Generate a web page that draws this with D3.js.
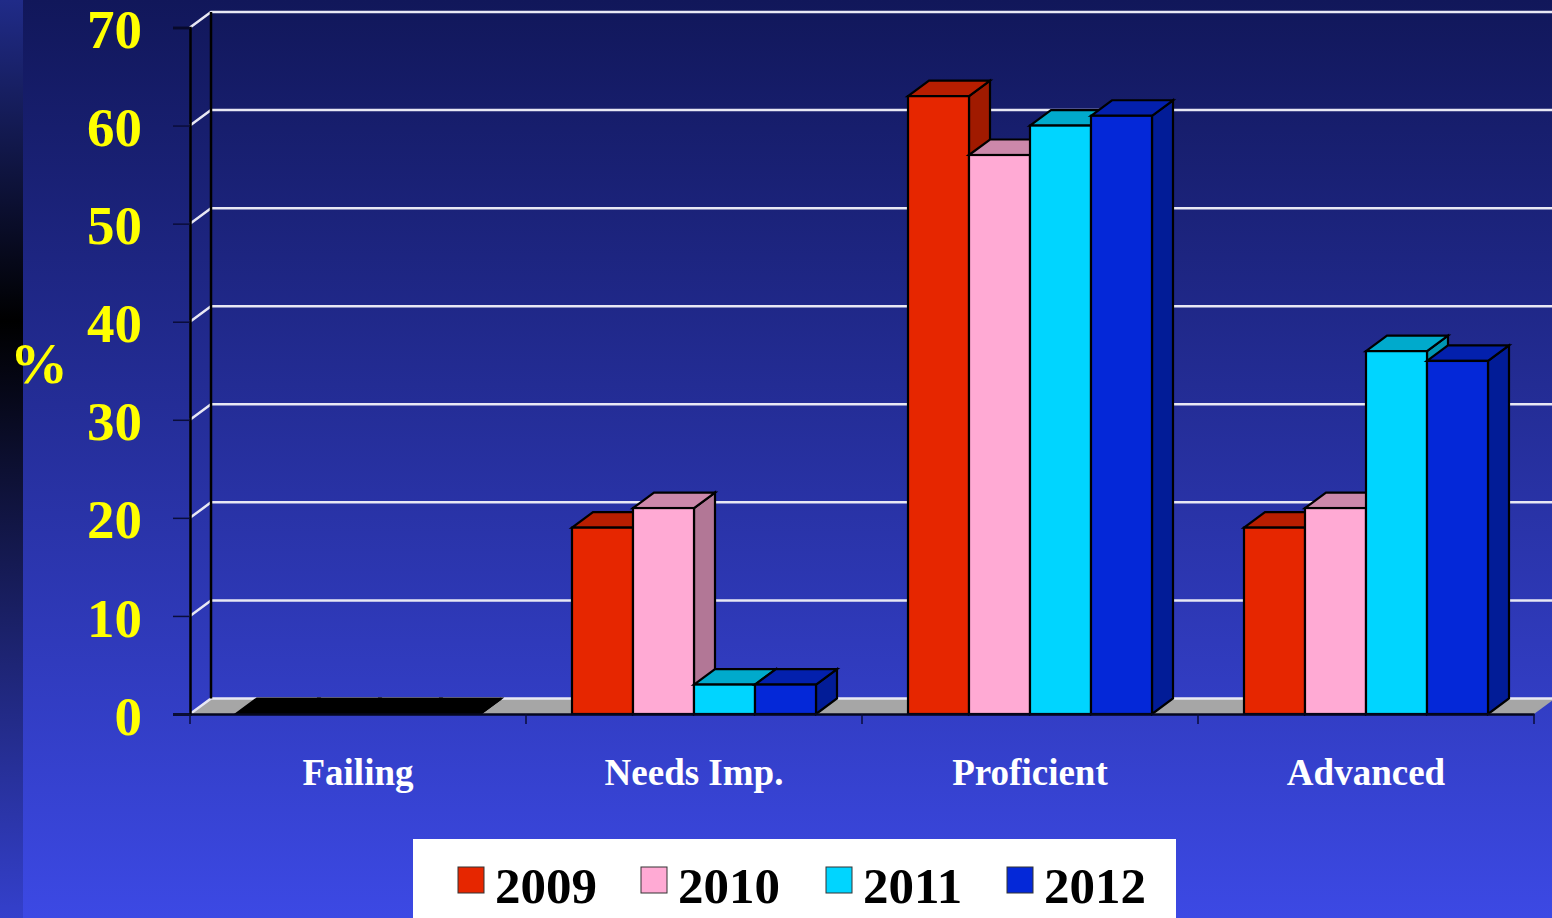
<!DOCTYPE html>
<head>
    <title>Percent of students by level, 2009-2012</title>
</head>
<meta charset="utf-8">

<script src="https://d3js.org/d3.v7.min.js"></script>

<style>
  html, body { margin: 0; padding: 0; background: #12175a; overflow: hidden; }
  text { font-family: "Liberation Serif", serif; font-weight: bold; }
</style>

<div id="my_dataviz"></div>
<body>
    <script>

    var categories = ["Failing", "Needs Imp.", "Proficient", "Advanced"];
    var years = ["2009", "2010", "2011", "2012"];
    var values2009 = [0, 19, 63, 19];
    var values2010 = [0, 21, 57, 21];
    var values2011 = [0, 3, 60, 37];
    var values2012 = [0, 3, 61, 36];
    var yTicks = [0, 10, 20, 30, 40, 50, 60, 70];

    var series = [values2009, values2010, values2011, values2012];
    var front = ["#e62600", "#ffaad4", "#00d5ff", "#0428d8"];
    var top_ = ["#b81e00", "#cc88aa", "#00aacc", "#0320ad"];
    var side = ["#a01a00", "#b27796", "#0095b3", "#021c97"];

    var W = 1552, H = 918;
    var dx = 21, dy = -15.5;

    var svg = d3.select("#my_dataviz")
    .append("svg")
      .attr("width", W)
      .attr("height", H)
      .style("display", "block");

    var defs = svg.append("defs");
    var bg = defs.append("linearGradient").attr("id", "bg").attr("x1", 0).attr("x2", 0).attr("y1", 0).attr("y2", 1);
    bg.append("stop").attr("offset", "0%").attr("stop-color", "#11175a");
    bg.append("stop").attr("offset", "100%").attr("stop-color", "#3c49e4");
    var band = defs.append("linearGradient").attr("id", "band").attr("x1", 0).attr("x2", 0).attr("y1", 0).attr("y2", 1);
    band.append("stop").attr("offset", "0%").attr("stop-color", "#202b88");
    band.append("stop").attr("offset", "35%").attr("stop-color", "#000000");
    band.append("stop").attr("offset", "100%").attr("stop-color", "#3440cc");

    svg.append("rect").attr("width", W).attr("height", H).attr("fill", "url(#bg)");
    svg.append("rect").attr("width", 23).attr("height", H).attr("fill", "url(#band)");

    var x = d3.scaleBand().domain(categories).range([190, 1534]);
    var y = d3.scaleLinear().domain([0, 70]).range([714, 27.5]);
    var xBar = d3.scaleBand().domain(d3.range(4)).range([0, 244]);
    var pad = (x.bandwidth() - 244) / 2;

    // floor
    svg.append("path")
      .attr("d", d3.line()([[x.range()[0], y(0)], [x.range()[0] + dx, y(0) + dy], [x.range()[1] + dx, y(0) + dy], [x.range()[1], y(0)]]))
      .attr("fill", "#a6a6a6");

    // gridlines on the back wall and side wall
    svg.selectAll(".grid")
      .data(yTicks)
      .enter()
      .append("path")
        .attr("class", "grid")
        .attr("d", function(d) {
          return d3.line()([[190, y(d)], [190 + dx, y(d) + dy], [x.range()[1] + dx, y(d) + dy]]);
        })
        .style("fill", "none")
        .style("stroke", "#e8e8f4")
        .style("stroke-width", 2.5);

    svg.append("line")
      .attr("x1", 190 + dx).attr("x2", 190 + dx)
      .attr("y1", y(70) + dy).attr("y2", y(0) + dy)
      .style("stroke", "#000").style("stroke-width", 2.5);

    // bars, back to front inside each group
    function bar3d(g, px, w, v, i) {
      var y0 = y(0), y1 = y(v);
      var stroke = "#000";
      g.append("path")
        .attr("d", d3.line()([[px + w, y0], [px + w + dx, y0 + dy], [px + w + dx, y1 + dy], [px + w, y1]]) + "Z")
        .attr("fill", side[i]).attr("stroke", stroke).attr("stroke-width", 2.2);
      g.append("path")
        .attr("d", d3.line()([[px, y1], [px + dx, y1 + dy], [px + w + dx, y1 + dy], [px + w, y1]]) + "Z")
        .attr("fill", v === 0 ? "#000" : top_[i]).attr("stroke", stroke).attr("stroke-width", 2.2);
      g.append("rect")
        .attr("x", px).attr("y", y1)
        .attr("width", w).attr("height", y0 - y1)
        .attr("fill", front[i]).attr("stroke", stroke).attr("stroke-width", 2.2);
    }

    var bars = svg.append("g");
    categories.forEach(function(c, ci) {
      series.forEach(function(s, i) {
        bar3d(bars, x(c) + pad + xBar(i), xBar.bandwidth(), s[ci], i);
      });
    });

    // axes
    var yAxis = svg.append("g")
      .attr("transform", "translate(190,0)")
      .call(d3.axisLeft(y).tickValues(yTicks).tickSize(17).tickPadding(31).tickFormat(d3.format("d")));
    yAxis.select(".domain").attr("stroke", "#000").attr("stroke-width", 2.5);
    yAxis.selectAll("line").attr("stroke", "#0a0d3a").attr("stroke-width", 1.5);
    yAxis.selectAll("text")
      .attr("fill", "#ffff00")
      .attr("transform", "translate(0,2.5)")
      .style("font-family", "'Liberation Serif', serif")
      .style("font-weight", "bold")
      .style("font-size", "55px");

    var xAxis = svg.append("g")
      .attr("transform", "translate(0,714)")
      .call(d3.axisBottom(x).tickValues([]).tickSizeOuter(0));
    xAxis.select(".domain").attr("stroke", "#05071f").attr("stroke-width", 2.5);
    xAxis.selectAll(".sep")
      .data(d3.range(5))
      .enter()
      .append("line")
        .attr("class", "sep")
        .attr("x1", function(d) { return 190 + d * x.step(); })
        .attr("x2", function(d) { return 190 + d * x.step(); })
        .attr("y1", 0).attr("y2", 10)
        .attr("stroke", "#0a0d3a").attr("stroke-width", 1.5);

    svg.selectAll(".catLabel")
      .data(categories)
      .enter()
      .append("text")
        .attr("class", "catLabel")
        .attr("x", function(d) { return x(d) + x.bandwidth() / 2; })
        .attr("y", 785)
        .attr("text-anchor", "middle")
        .attr("fill", "#ffffff")
        .style("font-size", "37px")
        .text(function(d) { return d; });

    svg.append("text")
      .attr("x", 39).attr("y", 383)
      .attr("text-anchor", "middle")
      .attr("fill", "#ffff00")
      .style("font-size", "58px")
      .text("%");

    // legend
    svg.append("rect").attr("x", 413).attr("y", 839).attr("width", 763).attr("height", 90).attr("fill", "#fff");
    var legendX = [458, 641, 826, 1007];
    years.forEach(function(yr, i) {
      svg.append("rect")
        .attr("x", legendX[i]).attr("y", 867).attr("width", 26).attr("height", 26)
        .attr("fill", front[i]).attr("stroke", "#333").attr("stroke-width", 1);
      svg.append("text")
        .attr("x", legendX[i] + 37).attr("y", 903)
        .attr("fill", "#000")
        .style("font-size", "51px")
        .text(yr);
    });

</script>
</body>
